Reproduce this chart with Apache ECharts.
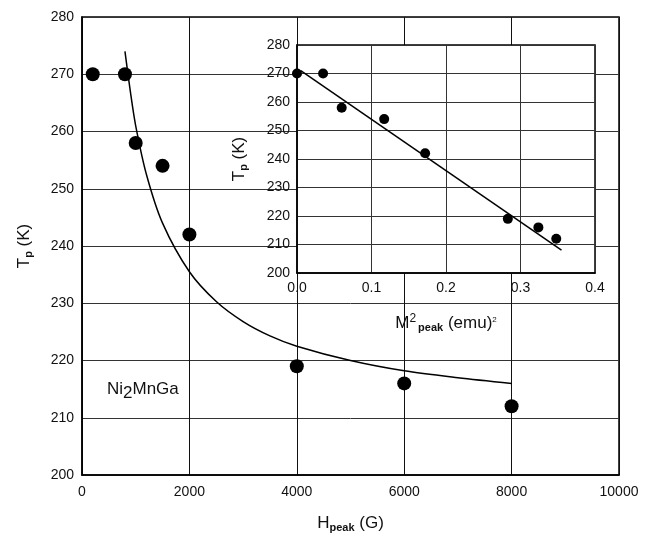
<!DOCTYPE html>
<html>
<head>
<meta charset="utf-8">
<script src="https://cdn.jsdelivr.net/npm/echarts@6/dist/echarts.min.js"></script>
<style>
  html, body { margin: 0; padding: 0; background: #fff; }
  #chart { width: 652px; height: 535px; }
</style>
</head>
<body>
<div id="chart"></div>
<script>
// main plot: Tp vs H_peak
var hPeak = [200, 800, 1000, 1500, 2000, 4000, 6000, 8000];
var tpMain = [270, 270, 258, 254, 242, 219, 216, 212];
// fitted curve
var curveH = [800, 900, 1000, 1200, 1500, 2000, 2500, 3000, 3500, 4000, 5000, 6000, 7000, 8000];
var curveT = [274, 267, 261, 252.5, 244, 235.5, 230.3, 226.8, 224.3, 222.5, 220, 218.2, 217, 216];

// inset: Tp vs M^2_peak
var m2Peak = [0.0, 0.035, 0.06, 0.117, 0.172, 0.283, 0.324, 0.348];
var tpInset = [270, 270, 258, 254, 242, 219, 216, 212];
var fitM2 = [0.005, 0.355];
var fitT = [271, 208];

var font = "'Liberation Sans', Arial, sans-serif";

function pairs(xs, ys) {
  return xs.map(function (x, i) { return [x, ys[i]]; });
}

var labelStyle = { color: '#111', fontSize: 14, fontFamily: font };
var gridLine = { show: true, lineStyle: { color: '#333', width: 1 } };
var subStyle = { fontSize: 11, fontFamily: font, fontWeight: 'bold', color: '#111', padding: [9, 0, 0, 0] };

var option = {
  backgroundColor: '#fff',
  animation: false,
  grid: [
    { left: 82, top: 17, width: 537, height: 458, outerBoundsMode: 'none', containLabel: false,
      show: true, borderColor: '#000', borderWidth: 1.5, z: 0 },
    { left: 297, top: 45, width: 298, height: 228, outerBoundsMode: 'none', containLabel: false,
      show: true, backgroundColor: '#fff', borderColor: '#000', borderWidth: 1.5, z: 3 }
  ],
  xAxis: [
    {
      gridIndex: 0, type: 'value', min: 0, max: 10000, interval: 2000, z: 1,
      axisLine: { show: true, lineStyle: { color: '#000', width: 1.5 } },
      axisTick: { show: false },
      axisLabel: Object.assign({ margin: 10, formatter: function (v) { return String(v); } }, labelStyle),
      splitLine: { show: true, lineStyle: { color: '#111', width: 1 } },
      name: 'H{s|peak} (G)', nameLocation: 'middle', nameGap: 38,
      nameTextStyle: { fontFamily: font, fontSize: 17, color: '#111', rich: { s: subStyle } }
    },
    {
      gridIndex: 1, type: 'value', min: 0, max: 0.4, interval: 0.1, z: 4,
      axisLine: { show: true, lineStyle: { color: '#000', width: 1.5 } },
      axisTick: { show: false },
      axisLabel: Object.assign({ margin: 8, formatter: function (v) { return v === 0 ? '0.0' : String(+v.toFixed(1)); } }, labelStyle),
      splitLine: gridLine,
      name: 'M{sp|2}{s|peak} (emu){sp2|2}', nameLocation: 'middle', nameGap: 40,
      nameTextStyle: {
        fontFamily: font, fontSize: 17, color: '#111',
        rich: {
          sp: { fontSize: 12, fontFamily: font, color: '#111', padding: [0, 0, 9, 0] },
          s: { fontSize: 11, fontFamily: font, fontWeight: 'bold', color: '#111', padding: [9, 0, 0, 2] },
          sp2: { fontSize: 8, fontFamily: font, color: '#111', padding: [0, 0, 8, 0] }
        }
      }
    }
  ],
  yAxis: [
    {
      gridIndex: 0, type: 'value', min: 200, max: 280, interval: 10, z: 1,
      axisLine: { show: true, lineStyle: { color: '#000', width: 1.5 } },
      axisTick: { show: false },
      axisLabel: Object.assign({ margin: 8 }, labelStyle),
      splitLine: gridLine,
      name: 'T{s|p} (K)', nameLocation: 'middle', nameGap: 48, nameRotate: 90,
      nameTextStyle: { fontFamily: font, fontSize: 17, color: '#111', rich: { s: subStyle } }
    },
    {
      gridIndex: 1, type: 'value', min: 200, max: 280, interval: 10, z: 4,
      axisLine: { show: true, lineStyle: { color: '#000', width: 1.5 } },
      axisTick: { show: false },
      axisLabel: Object.assign({ margin: 7 }, labelStyle),
      splitLine: gridLine,
      name: 'T{s|p} (K)', nameLocation: 'middle', nameGap: 48, nameRotate: 90,
      nameTextStyle: { fontFamily: font, fontSize: 17, color: '#111', rich: { s: subStyle } }
    }
  ],
  graphic: [
    {
      type: 'text', left: 107, top: 381, z: 10,
      style: {
        text: 'Ni{s|2}MnGa', fontFamily: font, fontSize: 17, fill: '#111',
        rich: { s: { fontSize: 17, fontFamily: font, fill: '#111', padding: [8, 0, 0, 0] } }
      }
    }
  ],
  series: [
    {
      type: 'line', xAxisIndex: 0, yAxisIndex: 0, data: pairs(curveH, curveT),
      smooth: 0.3, showSymbol: false, symbol: 'none', z: 2,
      lineStyle: { color: '#000', width: 1.5 }
    },
    {
      type: 'scatter', xAxisIndex: 0, yAxisIndex: 0, data: pairs(hPeak, tpMain),
      symbolSize: 14, itemStyle: { color: '#000', opacity: 1 }, z: 2
    },
    {
      type: 'line', xAxisIndex: 1, yAxisIndex: 1, data: pairs(fitM2, fitT),
      showSymbol: false, symbol: 'none', z: 6,
      lineStyle: { color: '#000', width: 1.5 }
    },
    {
      type: 'scatter', xAxisIndex: 1, yAxisIndex: 1, data: pairs(m2Peak, tpInset),
      symbolSize: 10, itemStyle: { color: '#000', opacity: 1 }, z: 6
    }
  ]
};

var myChart = echarts.init(document.getElementById('chart'));
myChart.setOption(option);
</script>
</body>
</html>
